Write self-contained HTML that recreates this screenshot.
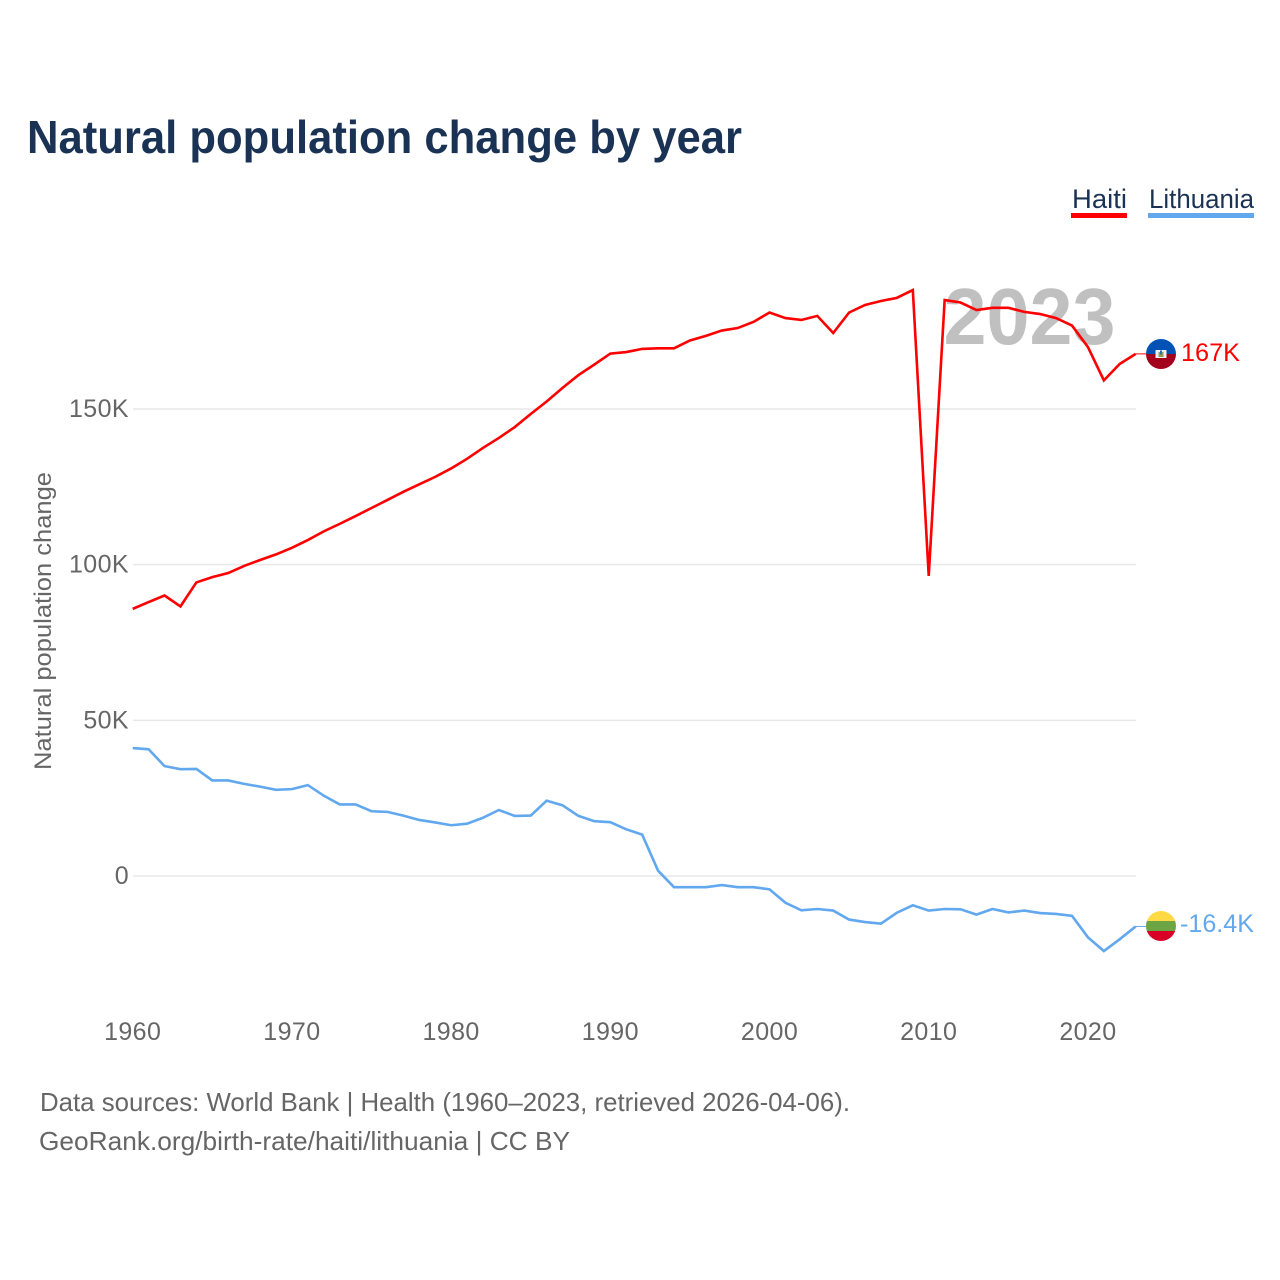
<!DOCTYPE html>
<html lang="en">
<head>
<meta charset="utf-8">
<title>Natural population change by year</title>
<style>
html,body{margin:0;padding:0;background:#fff;}
svg{display:block;font-family:"Liberation Sans",sans-serif;}
</style>
</head>
<body>
<svg id="chart" xmlns="http://www.w3.org/2000/svg" width="1280" height="1280" viewBox="0 0 1280 1280">
  <defs>
    <clipPath id="flag-clip-haiti"><circle cx="1161" cy="354" r="15"/></clipPath>
    <clipPath id="flag-clip-lithuania"><circle cx="1161" cy="926" r="15"/></clipPath>
  </defs>
  <rect x="0" y="0" width="1280" height="1280" fill="#ffffff"/>
  <text x="27" y="153" font-size="46" font-weight="700" fill="#1a3355" textLength="715" lengthAdjust="spacingAndGlyphs">Natural population change by year</text>

  <g>
    <g>
      <text x="1072" y="208" font-size="27" fill="#1a3355" textLength="55" lengthAdjust="spacingAndGlyphs">Haiti</text>
      <rect x="1071" y="213" width="56" height="5" fill="#ff0000"/>
    </g>
    <g>
      <text x="1149" y="208" font-size="27" fill="#1a3355" textLength="105" lengthAdjust="spacingAndGlyphs">Lithuania</text>
      <rect x="1148" y="213" width="106" height="5" fill="#62a8ee"/>
    </g>
  </g>

  <g id="grid"></g>
  <text x="1029.5" y="344" text-anchor="middle" font-size="80" font-weight="700" fill="#c0c0c0" textLength="172" lengthAdjust="spacingAndGlyphs">2023</text>
  <g id="y-axis"></g>
  <g id="x-axis"></g>
  <text transform="translate(51,621) rotate(-90)" text-anchor="middle" font-size="24" fill="#666666" textLength="298" lengthAdjust="spacingAndGlyphs">Natural population change</text>
  <g id="series"></g>

  <g clip-path="url(#flag-clip-haiti)">
    <rect x="1146" y="339" width="30" height="15" fill="#0052b4"/>
    <rect x="1146" y="354" width="30" height="15" fill="#a2001d"/>
    <rect x="1155.5" y="350" width="11" height="8" fill="#f0f0f0"/>
    <rect x="1158.5" y="352" width="5" height="5" fill="#9a9a55"/>
    <rect x="1160" y="350.5" width="2" height="4" fill="#2a6fb5"/>
  </g>
  <g clip-path="url(#flag-clip-lithuania)">
    <rect x="1146" y="911" width="30" height="10" fill="#ffda44"/>
    <rect x="1146" y="921" width="30" height="10" fill="#6da544"/>
    <rect x="1146" y="931" width="30" height="10" fill="#d80027"/>
  </g>
  <text x="1181" y="361" font-size="25" fill="#ff0000" textLength="59" lengthAdjust="spacingAndGlyphs">167K</text>
  <text x="1180" y="932" font-size="25" fill="#62a8ee" textLength="74" lengthAdjust="spacingAndGlyphs">-16.4K</text>

  <text x="40" y="1111" font-size="26" fill="#666666" textLength="810" lengthAdjust="spacingAndGlyphs">Data sources: World Bank | Health (1960–2023, retrieved 2026-04-06).</text>
  <text x="39" y="1150" font-size="26" fill="#666666" textLength="531" lengthAdjust="spacingAndGlyphs">GeoRank.org/birth-rate/haiti/lithuania | CC BY</text>
</svg>
<script>
const firstYear = 1960;
const xTickYears = [1960, 1970, 1980, 1990, 2000, 2010, 2020];
const yTickValues = [0, 50, 100, 150];
const yTickLabels = ['0', '50K', '100K', '150K'];
const haitiValues = [85.8, 88.0, 90.1, 86.6, 94.3, 96.0, 97.3, 99.6, 101.5, 103.3,
  105.4, 107.9, 110.7, 113.1, 115.6, 118.2, 120.8, 123.4, 125.8, 128.2,
  130.9, 134.0, 137.5, 140.7, 144.2, 148.4, 152.4, 156.8, 160.9, 164.3,
  167.8, 168.3, 169.3, 169.5, 169.5, 172.0, 173.5, 175.2, 176.0, 178.0,
  181.0, 179.2, 178.6, 179.9, 174.4, 181.0, 183.4, 184.7, 185.7, 188.2,
  96.4, 185.0, 184.2, 181.8, 182.5, 182.5, 181.2, 180.5, 179.2, 176.8,
  169.9, 159.2, 164.5, 167.7];
const lithuaniaValues = [41.1, 40.7, 35.3, 34.3, 34.4, 30.7, 30.7, 29.6, 28.7, 27.7,
  27.9, 29.2, 25.8, 23.0, 23.0, 20.8, 20.6, 19.4, 18.0, 17.2,
  16.3, 16.8, 18.7, 21.2, 19.3, 19.4, 24.2, 22.7, 19.3, 17.6,
  17.3, 15.0, 13.3, 1.7, -3.6, -3.6, -3.6, -2.9, -3.6, -3.6,
  -4.3, -8.6, -11.0, -10.6, -11.1, -14.0, -14.8, -15.3, -11.8, -9.4,
  -11.1, -10.6, -10.7, -12.4, -10.6, -11.7, -11.1, -11.9, -12.2, -12.8,
  -19.7, -24.1, -20.3, -16.2];

const NS = 'http://www.w3.org/2000/svg';
const xScale = function (year) { return 132.7 + (year - 1960) * (1135.7 - 132.7) / 63; };
const yScale = function (value) { return 876 - value * (876 - 409) / 150; };

function make(tag, parent) {
  const el = document.createElementNS(NS, tag);
  parent.appendChild(el);
  return el;
}

const gridLayer = document.getElementById('grid');
const yLayer = document.getElementById('y-axis');
yTickValues.forEach(function (value, i) {
  const line = make('line', gridLayer);
  
  
  line.setAttribute('x1', 133);
  line.setAttribute('x2', 1136);
  line.setAttribute('y1', yScale(value));
  line.setAttribute('y2', yScale(value));
  line.setAttribute('stroke', '#e8e8e8');
  line.setAttribute('stroke-width', '1.5');
  const label = make('text', yLayer);
  
  
  label.setAttribute('x', 129);
  label.setAttribute('y', yScale(value) + 8);
  label.setAttribute('text-anchor', 'end');
  label.setAttribute('font-size', '25');
  label.setAttribute('letter-spacing', '0.4');
  label.setAttribute('fill', '#666666');
  label.textContent = yTickLabels[i];
});

const xLayer = document.getElementById('x-axis');
xTickYears.forEach(function (year) {
  const label = make('text', xLayer);
  
  
  label.setAttribute('x', xScale(year));
  label.setAttribute('y', 1040);
  label.setAttribute('text-anchor', 'middle');
  label.setAttribute('font-size', '25');
  label.setAttribute('letter-spacing', '0.4');
  label.setAttribute('fill', '#666666');
  label.textContent = String(year);
});

const seriesLayer = document.getElementById('series');
function drawSeries(values, color, lineName, leaderName) {
  const pts = values.map(function (v, i) {
    return xScale(firstYear + i).toFixed(2) + ',' + yScale(v).toFixed(2);
  }).join(' ');
  const line = make('polyline', seriesLayer);
  
  
  line.setAttribute('points', pts);
  line.setAttribute('fill', 'none');
  line.setAttribute('stroke', color);
  line.setAttribute('stroke-width', '2.6');
  line.setAttribute('stroke-linejoin', 'miter');
  const endY = yScale(values[values.length - 1]);
  const leader = make('line', seriesLayer);
  
  
  leader.setAttribute('x1', xScale(firstYear + values.length - 1));
  leader.setAttribute('x2', 1146);
  leader.setAttribute('y1', endY);
  leader.setAttribute('y2', endY);
  leader.setAttribute('stroke', color);
  leader.setAttribute('stroke-width', '1');
}
drawSeries(haitiValues, '#ff0000', 'line-haiti', 'leader-haiti');
drawSeries(lithuaniaValues, '#62a8ee', 'line-lithuania', 'leader-lithuania');
</script>
</body>
</html>
